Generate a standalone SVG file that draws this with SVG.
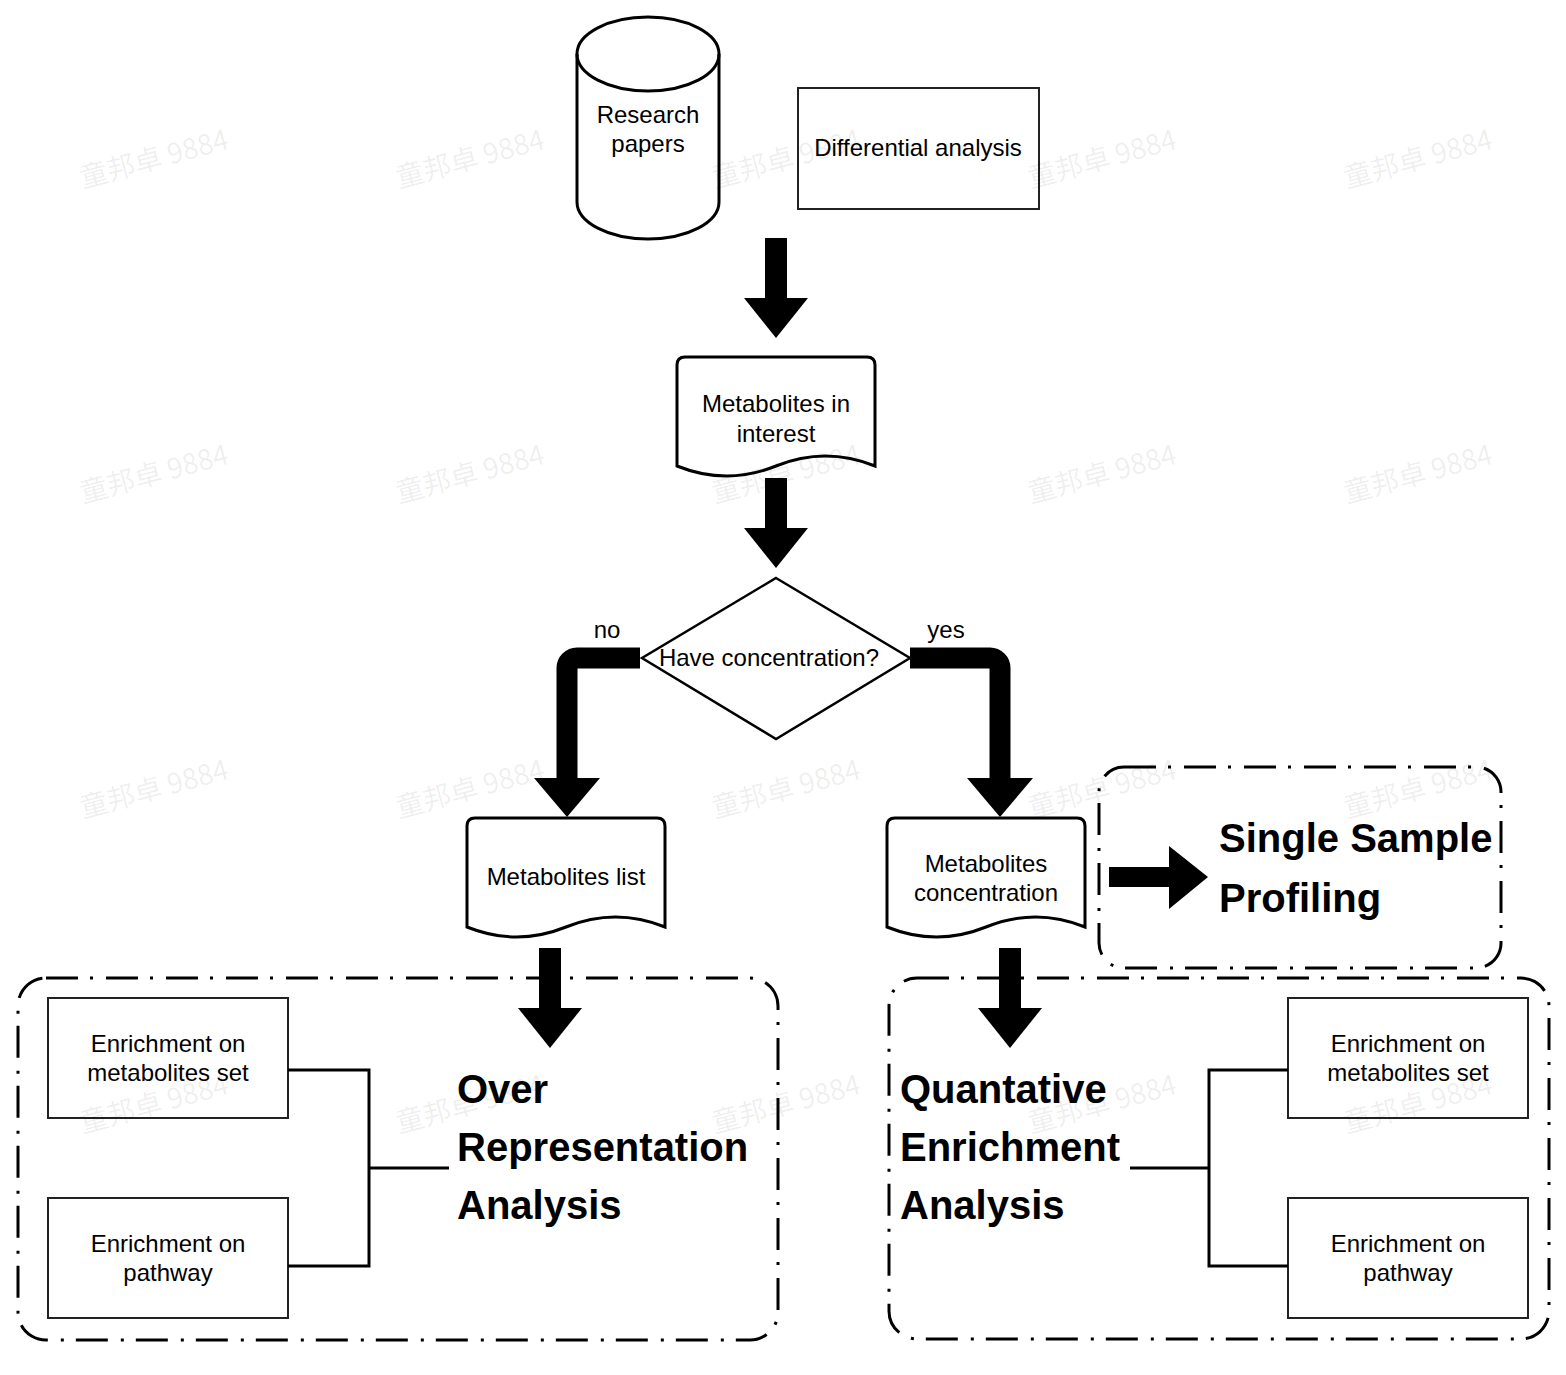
<svg xmlns="http://www.w3.org/2000/svg" width="1566" height="1375" viewBox="0 0 1566 1375">
<style>
.t{font-family:"Liberation Sans",Arial,Helvetica,sans-serif;font-size:24px;fill:#000;text-anchor:middle}
.b{font-family:"Liberation Sans",Arial,Helvetica,sans-serif;font-size:40px;font-weight:bold;fill:#000}
.shape{fill:#fff;stroke:#000;stroke-width:3}
.box{fill:#fff;stroke:#222;stroke-width:2}
.grp{fill:none;stroke:#000;stroke-width:3;stroke-dasharray:32 12 3 13}
.line{fill:none;stroke:#000;stroke-width:3}
.thick{fill:none;stroke:#000;stroke-width:21}
.wm{font-family:"Noto Sans CJK SC","Liberation Sans",sans-serif;font-size:28px;fill:#000;fill-opacity:0.07}
</style>
<rect width="1566" height="1375" fill="#fff"/>

<g id="group-ora"><rect class="grp" x="18" y="978" width="760" height="362" rx="28"/></g>
<g id="group-qea"><rect class="grp" x="889" y="978" width="660" height="361" rx="28"/></g>
<g id="group-ssp"><rect class="grp" x="1099" y="767" width="402" height="201" rx="25"/></g>

<g id="research-papers">
<path class="shape" d="M577,54 A71,37 0 0 1 719,54 V202 A71,37 0 0 1 577,202 Z"/>
<path class="line" d="M577,54 A71,37 0 0 0 719,54"/>
<text class="t" x="648" y="123">Research</text>
<text class="t" x="648" y="152">papers</text>
</g>

<g id="differential-analysis">
<rect class="box" x="798" y="88" width="241" height="121" stroke-width="1.5"/>
<text class="t" x="918" y="156">Differential analysis</text>
</g>

<g id="metabolites-interest">
<path class="shape" d="M677,365 Q677,357 685,357 H867 Q875,357 875,365 V466 Q825.5,446 776,466 Q726.5,486 677,466 Z"/>
<text class="t" x="776" y="412">Metabolites in</text>
<text class="t" x="776" y="442">interest</text>
</g>

<g id="have-concentration">
<polygon points="776,578 910,658 776,739 642,658" fill="#fff" stroke="#000" stroke-width="2.5"/>
<text class="t" x="769" y="666">Have concentration?</text>
</g>

<g id="metabolites-list">
<path class="shape" d="M467,826 Q467,818 475,818 H657 Q665,818 665,826 V927 Q615.5,907 566,927 Q516.5,947 467,927 Z"/>
<text class="t" x="566" y="885">Metabolites list</text>
</g>

<g id="metabolites-concentration">
<path class="shape" d="M887,826 Q887,818 895,818 H1077 Q1085,818 1085,826 V927 Q1035.5,907 986,927 Q936.5,947 887,927 Z"/>
<text class="t" x="986" y="872">Metabolites</text>
<text class="t" x="986" y="901">concentration</text>
</g>

<g id="ora-set">
<rect class="box" x="48" y="998" width="240" height="120"/>
<text class="t" x="168" y="1052">Enrichment on</text>
<text class="t" x="168" y="1081">metabolites set</text>
</g>
<g id="ora-pathway">
<rect class="box" x="48" y="1198" width="240" height="120"/>
<text class="t" x="168" y="1252">Enrichment on</text>
<text class="t" x="168" y="1281">pathway</text>
</g>
<g id="ora-label">
<text class="b" x="457" y="1103">Over</text>
<text class="b" x="457" y="1161">Representation</text>
<text class="b" x="457" y="1219">Analysis</text>
</g>

<g id="qea-set">
<rect class="box" x="1288" y="998" width="240" height="120"/>
<text class="t" x="1408" y="1052">Enrichment on</text>
<text class="t" x="1408" y="1081">metabolites set</text>
</g>
<g id="qea-pathway">
<rect class="box" x="1288" y="1198" width="240" height="120"/>
<text class="t" x="1408" y="1252">Enrichment on</text>
<text class="t" x="1408" y="1281">pathway</text>
</g>
<g id="qea-label">
<text class="b" x="900" y="1103">Quantative</text>
<text class="b" x="900" y="1161">Enrichment</text>
<text class="b" x="900" y="1219">Analysis</text>
</g>

<g id="ssp-label">
<text class="b" x="1219" y="852">Single Sample</text>
<text class="b" x="1219" y="912">Profiling</text>
</g>

<g id="connectors">
<rect x="765" y="238" width="22" height="61"/>
<polygon points="744,298 808,298 776,338"/>
<rect x="765" y="478" width="22" height="51"/>
<polygon points="744,528 808,528 776,568"/>
<path class="thick" d="M640,658 H577 A10,10 0 0 0 567,668 V780"/>
<polygon points="534,778 600,778 567,817"/>
<path class="thick" d="M910,658 H990 A10,10 0 0 1 1000,668 V780"/>
<polygon points="967,778 1033,778 1000,817"/>
<text class="t" x="607" y="638">no</text>
<text class="t" x="946" y="638">yes</text>
<rect x="539" y="948" width="22" height="61"/>
<polygon points="518,1008 582,1008 550,1048"/>
<rect x="999" y="948" width="22" height="61"/>
<polygon points="978,1008 1042,1008 1010,1048"/>
<rect x="1109" y="867" width="61" height="20"/>
<polygon points="1169,846 1208,877 1169,909"/>
<path class="line" d="M288,1070 H369 V1266 H288 M369,1168 H449"/>
<path class="line" d="M1288,1070 H1209 V1266 H1288 M1209,1168 H1130"/>
</g>

<g id="watermarks">
<text class="wm" transform="translate(83,188) rotate(-15)">童邦卓 9884</text>
<text class="wm" transform="translate(399,188) rotate(-15)">童邦卓 9884</text>
<text class="wm" transform="translate(715,188) rotate(-15)">童邦卓 9884</text>
<text class="wm" transform="translate(1031,188) rotate(-15)">童邦卓 9884</text>
<text class="wm" transform="translate(1347,188) rotate(-15)">童邦卓 9884</text>
<text class="wm" transform="translate(83,503) rotate(-15)">童邦卓 9884</text>
<text class="wm" transform="translate(399,503) rotate(-15)">童邦卓 9884</text>
<text class="wm" transform="translate(715,503) rotate(-15)">童邦卓 9884</text>
<text class="wm" transform="translate(1031,503) rotate(-15)">童邦卓 9884</text>
<text class="wm" transform="translate(1347,503) rotate(-15)">童邦卓 9884</text>
<text class="wm" transform="translate(83,818) rotate(-15)">童邦卓 9884</text>
<text class="wm" transform="translate(399,818) rotate(-15)">童邦卓 9884</text>
<text class="wm" transform="translate(715,818) rotate(-15)">童邦卓 9884</text>
<text class="wm" transform="translate(1031,818) rotate(-15)">童邦卓 9884</text>
<text class="wm" transform="translate(1347,818) rotate(-15)">童邦卓 9884</text>
<text class="wm" transform="translate(83,1133) rotate(-15)">童邦卓 9884</text>
<text class="wm" transform="translate(399,1133) rotate(-15)">童邦卓 9884</text>
<text class="wm" transform="translate(715,1133) rotate(-15)">童邦卓 9884</text>
<text class="wm" transform="translate(1031,1133) rotate(-15)">童邦卓 9884</text>
<text class="wm" transform="translate(1347,1133) rotate(-15)">童邦卓 9884</text>
</g>
</svg>
